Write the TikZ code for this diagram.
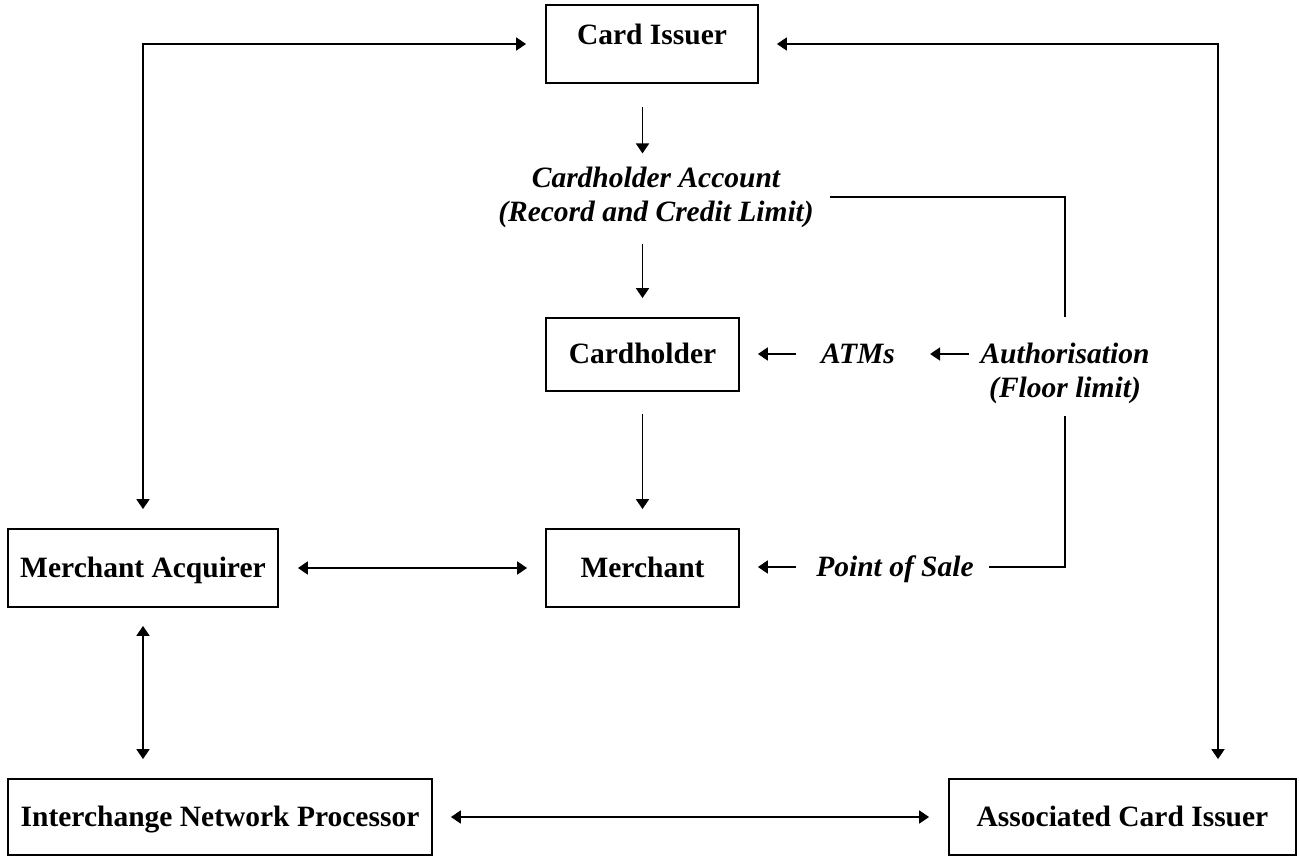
\documentclass[tikz,border=0pt]{standalone}
\usepackage{fontspec}
\setmainfont{Liberation Serif}
\usetikzlibrary{arrows.meta}
\begin{document}
\begin{tikzpicture}[x=1pt,y=-1pt,
  box/.style={draw, line width=1.8pt, inner sep=0pt,
    font=\fontsize{29.5pt}{34pt}\selectfont\bfseries,
    text height=22pt, text depth=4pt},
  lbl/.style={inner sep=0pt, font=\fontsize{29.5pt}{34pt}\selectfont\bfseries\itshape,
    text height=22pt, text depth=4pt},
  lbltwo/.style={inner sep=0pt, align=center,
    font=\fontsize{29.5pt}{34pt}\selectfont\bfseries\itshape},
  conn/.style={line width=1.8pt},
  tip/.style={-{Triangle[length=10pt,width=13pt]}},
  both/.style={{Triangle[length=10pt,width=13pt]}-{Triangle[length=10pt,width=13pt]}}
]
\useasboundingbox (0,0) rectangle (1299,856);

% boxes
\node[box, minimum width=212pt, minimum height=78pt, text depth=20pt] (issuer) at (652,44) {Card Issuer};
\node[box, minimum width=193pt, minimum height=73pt] (ch) at (642.5,354.5) {Cardholder};
\node[box, minimum width=193pt, minimum height=78pt] (mer) at (642.5,568) {Merchant};
\node[box, minimum width=270pt, minimum height=78pt] (acq) at (143,568) {Merchant Acquirer};
\node[box, minimum width=424pt, minimum height=76pt] (inp) at (220,817) {Interchange Network Processor};
\node[box, minimum width=347pt, minimum height=76pt] (assoc) at (1122.5,817) {Associated Card Issuer};

% free labels
\node[lbltwo] (acct) at (656,197) {Cardholder Account\\(Record and Credit Limit)};
\node[lbltwo] (auth) at (1065,373) {Authorisation\\(Floor limit)};
\node[lbl, anchor=base] (atms) at (858,363) {ATMs};
\node[lbl, anchor=base] (pos) at (895,576) {Point of Sale};

% connectors
\draw[conn, both, shorten <=19pt, shorten >=19pt] (issuer.west) -| (acq.north);
\draw[conn, both, shorten <=18pt, shorten >=19pt] (issuer.east) -| ([xshift=95.5pt]assoc.north);
\draw[conn, tip, shorten <=23pt, shorten >=13pt] (issuer.south -| ch.north) -- (acct.north -| ch.north);
\draw[conn, tip, shorten <=16pt, shorten >=19pt] (acct.south -| ch.north) -- (ch.north);
\draw[conn, tip, shorten <=22pt, shorten >=19pt] (ch.south) -- (mer.north);
\draw[conn, both, shorten <=19pt, shorten >=18pt] (acq.east) -- (mer.west);
\draw[conn, both, shorten <=18pt, shorten >=19pt] (acq.south) -- (acq.south |- inp.north);
\draw[conn, both, shorten <=18pt, shorten >=19pt] (inp.east) -- (assoc.west);
\draw[conn, tip, shorten <=25pt, shorten >=18pt] (atms.west) -- (atms.west -| ch.east);
\draw[conn, tip, shorten <=11.5pt, shorten >=35pt] (atms.east -| auth.west) -- (atms.east);
\draw[conn, tip, shorten <=20pt, shorten >=18pt] (pos.west) -- (pos.west -| mer.east);
\draw[conn, shorten <=15pt, shorten >=12pt] (pos.east) -| (auth.south);
\draw[conn, shorten <=16pt, shorten >=25pt] (acct.east) -| (auth.north);
\end{tikzpicture}
\end{document}
